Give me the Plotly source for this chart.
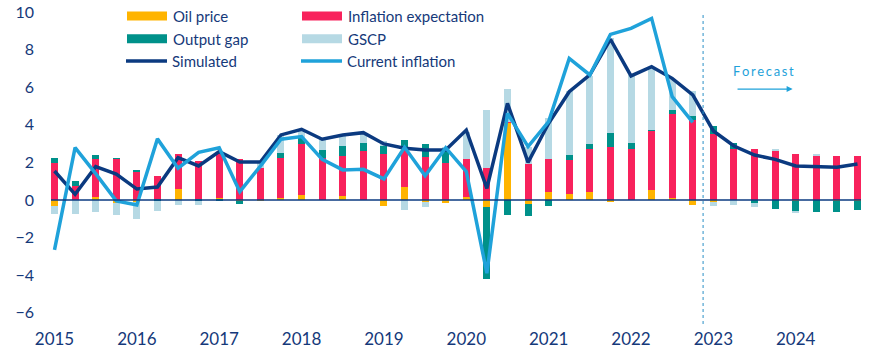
import plotly.graph_objects as go

# Quarterly index 2015Q1 .. 2024Q4
quarters = list(range(40))
year_labels = ["2015", "2016", "2017", "2018", "2019", "2020", "2021", "2022", "2023", "2024"]
year_ticks = [0, 4, 8, 12, 16, 20, 24, 28, 32, 36]

oil_price = [-0.30, 0.00, 0.16, -0.18, -0.12, 0.00, 0.58, 0.00, 0.12, -0.05,
             -0.07, 0.12, 0.27, 0.00, 0.21, 0.00, -0.30, 0.69, -0.10, -0.14,
             0.18, -0.35, 4.11, -0.21, 0.43, 0.32, 0.43, -0.09, 0.00, 0.53,
             0.10, -0.27, -0.09, 0.00, 0.00, 0.00, -0.03, 0.00, -0.07, -0.07]
inflation_expectation = [1.97, 0.76, 2.02, 2.18, 1.54, 1.28, 1.86, 2.07, 2.45, 2.20,
                         1.70, 2.13, 2.73, 2.25, 2.13, 2.61, 2.45, 2.00, 2.29, 1.97,
                         2.00, 1.69, 0.05, 1.91, 1.76, 1.82, 2.29, 2.82, 2.71, 3.14,
                         4.47, 4.26, 3.51, 2.71, 2.71, 2.61, 2.45, 2.39, 2.34, 2.34]
output_gap = [0.28, 0.25, 0.21, 0.05, 0.05, -0.08, 0.00, -0.08, -0.08, -0.15,
              0.00, 0.25, 0.30, 0.41, 0.53, 0.41, 0.43, 0.50, 0.69, 0.73,
              0.00, -3.87, -0.80, -0.67, -0.30, 0.25, 0.27, 0.74, 0.30, 0.05,
              0.21, 0.21, 0.43, 0.30, -0.14, -0.48, -0.60, -0.64, -0.57, -0.46]
gscp = [-0.43, -0.75, -0.62, -0.60, -0.90, -0.50, -0.25, -0.20, 0.00, 0.00,
        0.37, 0.96, 0.48, 0.57, 0.59, 0.56, 0.27, -0.52, -0.30, 0.10,
        1.45, 3.10, 1.74, 0.92, 2.16, 3.42, 3.62, 5.05, 3.63, 3.37,
        1.65, 1.35, -0.21, -0.25, -0.21, 0.05, -0.05, 0.05, 0.00, 0.00]
simulated = [1.54, 0.30, 1.77, 1.38, 0.58, 0.69, 2.25, 1.81, 2.57, 2.02,
             2.02, 3.46, 3.76, 3.23, 3.46, 3.58, 2.98, 2.75, 2.66, 2.66,
             3.72, 0.62, 5.14, 2.00, 4.08, 5.76, 6.65, 8.55, 6.60, 7.09,
             6.47, 5.59, 3.67, 2.87, 2.39, 2.16, 1.81, 1.79, 1.74, 1.91]
current_inflation = [-2.66, 2.78, 1.40, -0.05, -0.27, 3.25, 1.69, 2.53, 2.78, 0.44,
                     1.80, 3.23, 3.37, 2.16, 1.60, 1.63, 1.12, 2.80, 1.29, 2.78,
                     1.51, -3.90, 4.61, 2.84, 4.17, 7.53, 6.65, 8.81, 9.13, 9.66,
                     5.50, 4.13]
forecast_start = 31.5

C_OIL = "#FFB400"
C_INF = "#F8225C"
C_GAP = "#00918A"
C_GSCP = "#B6D9E4"
C_SIM = "#0B3A80"
C_CUR = "#1FA2DA"
C_TXT = "#15397A"
FONT = "Lato"

fig = go.Figure()
bar_w = 0.34
for name, vals, col in [("Oil price", oil_price, C_OIL),
                        ("Inflation expectation", inflation_expectation, C_INF),
                        ("Output gap", output_gap, C_GAP),
                        ("GSCP", gscp, C_GSCP)]:
    fig.add_trace(go.Bar(x=quarters, y=vals, name=name, marker_color=col,
                         marker_line_width=0, width=bar_w, showlegend=False))

fig.add_trace(go.Scatter(x=quarters, y=simulated, mode="lines", name="Simulated",
                         line=dict(color=C_SIM, width=3.5), showlegend=False))
fig.add_trace(go.Scatter(x=quarters[:len(current_inflation)], y=current_inflation,
                         mode="lines", name="Current inflation",
                         line=dict(color=C_CUR, width=3.5), showlegend=False))

W, H = 884, 353
ML, MR, MT, MB = 51, 23, 12, 29
pw, ph = W - ML - MR, H - MT - MB


def px(xp):
    return (xp - ML) / pw


def py(yp):
    return (H - MB - yp) / ph


shapes = [
    dict(type="line", xref="x", yref="paper", x0=forecast_start, x1=forecast_start,
         y0=0, y1=1, line=dict(color="#2A8FC6", width=1, dash="3px,3px")),
    dict(type="line", xref="paper", yref="y", x0=0, x1=1, y0=0, y1=0,
         line=dict(color=C_SIM, width=1.5)),
]
annotations = []

legend_items = [
    ("Oil price", C_OIL, "bar", 127, 16),
    ("Output gap", C_GAP, "bar", 127, 38.7),
    ("Simulated", C_SIM, "line", 126, 61),
    ("Inflation expectation", C_INF, "bar", 302, 16),
    ("GSCP", C_GSCP, "bar", 302, 38.7),
    ("Current inflation", C_CUR, "line", 301, 61),
]
for label, col, kind, x0, yc in legend_items:
    if kind == "bar":
        shapes.append(dict(type="rect", xref="paper", yref="paper",
                           x0=px(x0), x1=px(x0 + 40), y0=py(yc + 4.5), y1=py(yc - 4.5),
                           fillcolor=col, line=dict(width=0)))
    else:
        shapes.append(dict(type="line", xref="paper", yref="paper",
                           x0=px(x0), x1=px(x0 + 41), y0=py(yc), y1=py(yc),
                           line=dict(color=col, width=3.5)))
    annotations.append(dict(text=label, xref="paper", yref="paper",
                            x=px(x0 + 44), y=py(yc), xanchor="left", yanchor="middle",
                            showarrow=False, font=dict(family=FONT, size=15, color=C_TXT)))

forecast_text = "\u2009".join("Forecast")
annotations.append(dict(text=forecast_text, x=34.45, y=6.86, xref="x", yref="y",
                        showarrow=False, font=dict(family=FONT, size=13, color=C_CUR)))
annotations.append(dict(text="", x=35.85, y=5.9, ax=33.1, ay=5.9, xref="x", yref="y",
                        axref="x", ayref="y", showarrow=True, arrowhead=2, arrowsize=1,
                        arrowwidth=1.2, arrowcolor=C_CUR))

fig.update_layout(
    width=W, height=H,
    margin=dict(l=ML, r=MR, t=MT, b=MB, autoexpand=False),
    barmode="relative",
    bargap=0,
    plot_bgcolor="white", paper_bgcolor="white",
    shapes=shapes, annotations=annotations,
    showlegend=False,
    font=dict(family=FONT, color=C_TXT),
)
fig.update_xaxes(range=[-0.17, 39.17], tickvals=year_ticks, ticktext=year_labels,
                 showgrid=False, zeroline=False, showline=False, ticks="",
                 automargin=False, ticklabelstandoff=3,
                 tickfont=dict(family=FONT, size=17, color=C_TXT))
fig.update_yaxes(range=[-6.6, 10], dtick=2, tick0=0, showgrid=False, zeroline=False,
                 showline=False, ticks="", ticklabelstandoff=16, automargin=False,
                 tickfont=dict(family=FONT, size=16, color=C_TXT))

fig.write_html("out.html")
